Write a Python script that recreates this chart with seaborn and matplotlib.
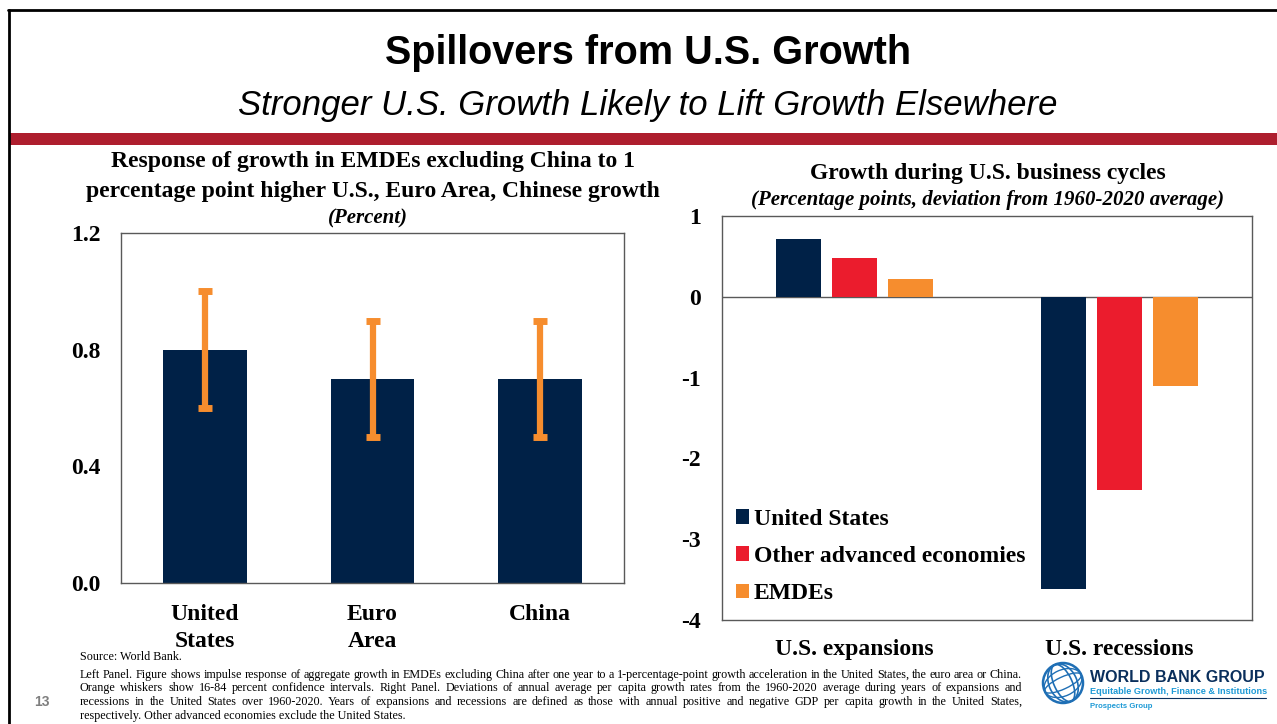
import matplotlib
matplotlib.use("Agg")
import matplotlib.pyplot as plt
import seaborn as sns
import pandas as pd
from matplotlib.patches import Circle, Ellipse, Rectangle
from matplotlib.lines import Line2D
from matplotlib.font_manager import FontProperties

# ---- data ---------------------------------------------------------------
shock_origins = ["United\nStates", "Euro\nArea", "China"]
response = [0.8, 0.7, 0.7]
ci_low = [0.6, 0.5, 0.5]
ci_high = [1.0, 0.9, 0.9]
left_ticks = [0.0, 0.4, 0.8, 1.2]
left_ticklabels = ["0.0", "0.4", "0.8", "1.2"]

cycles = ["U.S. expansions", "U.S. recessions"]
groups = ["United States", "Other advanced economies", "EMDEs"]
us_dev = [0.72, -3.62]
oae_dev = [0.48, -2.39]
emde_dev = [0.22, -1.10]
right_ticks = [1, 0, -1, -2, -3, -4]

# ---- style --------------------------------------------------------------
NAVY = "#002147"
RED = "#EB1C2D"
ORANGE = "#F68D2E"
SPINE = "#595959"
SERIF = ["Liberation Serif", "DejaVu Serif"]
SANS = ["Liberation Sans", "DejaVu Sans"]

sns.set_theme(style="white")
plt.rcParams["font.family"] = SERIF
for key in ("text.color", "axes.labelcolor", "xtick.color", "ytick.color"):
    plt.rcParams[key] = "black"

W, H = 1277, 724
fig = plt.figure(figsize=(W / 100, H / 100), dpi=100)
fig.patch.set_facecolor("white")


def fx(px):
    return px / W


def fy(py):
    return 1 - py / H


def axes_box(x0, y0, x1, y1):
    return [fx(x0), fy(y1), (x1 - x0) / W, (y1 - y0) / H]


# ---- slide frame --------------------------------------------------------
fig.add_artist(Line2D([fx(8), 1], [fy(10), fy(10)], color="black", lw=2,
                      transform=fig.transFigure))
fig.add_artist(Line2D([fx(9), fx(9)], [fy(10), 0], color="black", lw=2,
                      transform=fig.transFigure))
fig.add_artist(Rectangle((fx(10), fy(145)), 1 - fx(10), 12 / H,
                         color="#AE1E2E", lw=0, transform=fig.transFigure))

fig.text(fx(648), fy(53), "Spillovers from U.S. Growth", ha="center",
         va="center", fontsize=28.5, fontweight="bold", family=SANS)
fig.text(fx(648), fy(106), "Stronger U.S. Growth Likely to Lift Growth Elsewhere",
         ha="center", va="center", fontsize=25, style="italic", family=SANS)

# ---- left panel ---------------------------------------------------------
ax1 = fig.add_axes(axes_box(121, 233, 624, 583))
sns.barplot(x=shock_origins, y=response, color=NAVY, width=0.5,
            saturation=1, linewidth=0, ax=ax1)
ax1.errorbar(range(len(response)), response,
             yerr=[[r - l for r, l in zip(response, ci_low)],
                   [h - r for r, h in zip(response, ci_high)]],
             fmt="none", ecolor=ORANGE, elinewidth=4.5, capsize=5,
             capthick=5, zorder=5)
ax1.set_xlim(-0.5, 2.5)
ax1.set_ylim(0, 1.2)
ax1.set_yticks(left_ticks)
ax1.set_yticklabels(left_ticklabels, fontweight="bold")
ax1.set_xticks(range(len(shock_origins)))
ax1.set_xticklabels(shock_origins, fontweight="bold", linespacing=1.38)
ax1.tick_params(axis="y", length=0, pad=15, labelsize=17)
ax1.tick_params(axis="x", length=0, pad=15, labelsize=17)
ax1.set_xlabel("")
ax1.set_ylabel("")
for s in ax1.spines.values():
    s.set_color(SPINE)
    s.set_linewidth(1)

fig.text(fx(373), fy(162), "Response of growth in EMDEs excluding China to 1",
         ha="center", va="center", fontsize=17, fontweight="bold")
fig.text(fx(373), fy(191), "percentage point higher U.S., Euro Area, Chinese growth",
         ha="center", va="center", fontsize=17, fontweight="bold")
fig.text(fx(368), fy(218), "(Percent)", ha="center", va="center",
         fontsize=15, fontweight="bold", style="italic")

# ---- right panel --------------------------------------------------------
df = pd.DataFrame({
    "cycle": cycles * len(groups),
    "group": [g for g in groups for _ in cycles],
    "value": us_dev + oae_dev + emde_dev,
})
ax2 = fig.add_axes(axes_box(722, 216, 1252, 620))
sns.barplot(data=df, x="cycle", y="value", hue="group", hue_order=groups,
            order=cycles, palette=[NAVY, RED, ORANGE], width=0.633, gap=0.21,
            saturation=1, linewidth=0, ax=ax2)
ax2.axhline(0, color=SPINE, lw=1, zorder=0.5)
ax2.set_xlim(-0.5, 1.5)
ax2.set_ylim(-4, 1)
ax2.set_yticks(right_ticks)
ax2.set_yticklabels([str(t) for t in right_ticks], fontweight="bold")
ax2.set_xticks(range(len(cycles)))
ax2.set_xticklabels(cycles, fontweight="bold")
ax2.tick_params(axis="y", length=0, pad=15, labelsize=17)
ax2.tick_params(axis="x", length=0, pad=14, labelsize=17)
ax2.set_xlabel("")
ax2.set_ylabel("")
for s in ax2.spines.values():
    s.set_color(SPINE)
    s.set_linewidth(1)

handles, labels = ax2.get_legend_handles_labels()
ax2.legend(handles, labels, loc="lower left",
           bbox_to_anchor=(fx(736), fy(604)), bbox_transform=fig.transFigure,
           frameon=False, borderpad=0, borderaxespad=0,
           prop=dict(family=SERIF, weight="bold", size=17),
           handlelength=0.55, handleheight=0.55, handletextpad=0.2,
           labelspacing=0.68)

fig.text(fx(988), fy(174), "Growth during U.S. business cycles", ha="center",
         va="center", fontsize=17, fontweight="bold")
fig.text(fx(988), fy(200), "(Percentage points, deviation from 1960-2020 average)",
         ha="center", va="center", fontsize=15, fontweight="bold", style="italic")

# ---- footnote (justified block) -----------------------------------------
notes = [
    (657, "Source: World Bank.", False),
    (675, "Left Panel. Figure shows impulse response of aggregate growth in EMDEs excluding China after one year to a 1-percentage-point growth acceleration in the United States, the euro area or China.", True),
    (688, "Orange whiskers show 16-84 percent confidence intervals. Right Panel. Deviations of annual average per capita growth rates from the 1960-2020 average during years of expansions and", True),
    (702, "recessions in the United States over 1960-2020. Years of expansions and recessions are defined as those with annual positive and negative GDP per capita growth in the United States,", True),
    (716, "respectively. Other advanced economies exclude the United States.", False),
]
NOTE_SIZE = 8.75
NOTE_LEFT, NOTE_RIGHT = 80, 1022
note_font = FontProperties(family=SERIF, size=NOTE_SIZE)
renderer = fig.canvas.get_renderer()


def word_width(word):
    w, _, _ = renderer.get_text_width_height_descent(word, note_font, ismath=False)
    return w


for y, line, justify in notes:
    if not justify:
        fig.text(fx(NOTE_LEFT), fy(y), line, ha="left", va="center",
                 fontproperties=note_font)
        continue
    words = line.split(" ")
    widths = [word_width(wd) for wd in words]
    gap = (NOTE_RIGHT - NOTE_LEFT - sum(widths)) / (len(words) - 1)
    x = NOTE_LEFT
    for wd, ww in zip(words, widths):
        fig.text(fx(x), fy(y), wd, ha="left", va="center",
                 fontproperties=note_font)
        x += ww + gap

fig.text(fx(42), fy(702), "13", ha="center", va="center", fontsize=10,
         color="#7F7F7F", fontweight="bold", family=SANS)

# ---- World Bank Group mark ----------------------------------------------
gax = fig.add_axes(axes_box(1041, 661, 1085, 705))
gax.set_xlim(-1.1, 1.1)
gax.set_ylim(-1.1, 1.1)
gax.set_aspect("equal")
gax.axis("off")
BLUE = "#1F6FB5"
gax.add_patch(Circle((0, 0), 1, fill=False, ec=BLUE, lw=1.8))
for w in (0.9, 1.4):
    gax.add_patch(Ellipse((0, 0), w, 2, fill=False, ec=BLUE, lw=1.2, angle=25))
for h_ in (0.6, 1.3):
    gax.add_patch(Ellipse((0, 0), 2, h_, fill=False, ec=BLUE, lw=1.0, angle=25))

fig.text(fx(1090), fy(677), "WORLD BANK GROUP", ha="left", va="center",
         fontsize=11.5, fontweight="bold", color="#0A2F5C", family=SANS)
fig.text(fx(1090), fy(691), "Equitable Growth, Finance & Institutions",
         ha="left", va="center", fontsize=6.6, fontweight="bold",
         color="#1E9AD6", family=SANS)
fig.add_artist(Line2D([fx(1090), fx(1266)], [fy(698), fy(698)], color="#0A2F5C",
                      lw=0.8, transform=fig.transFigure))
fig.text(fx(1090), fy(706), "Prospects Group", ha="left", va="center",
         fontsize=5.6, fontweight="bold", color="#1E9AD6", family=SANS)

fig.savefig("out.png", dpi=100, facecolor="white")
